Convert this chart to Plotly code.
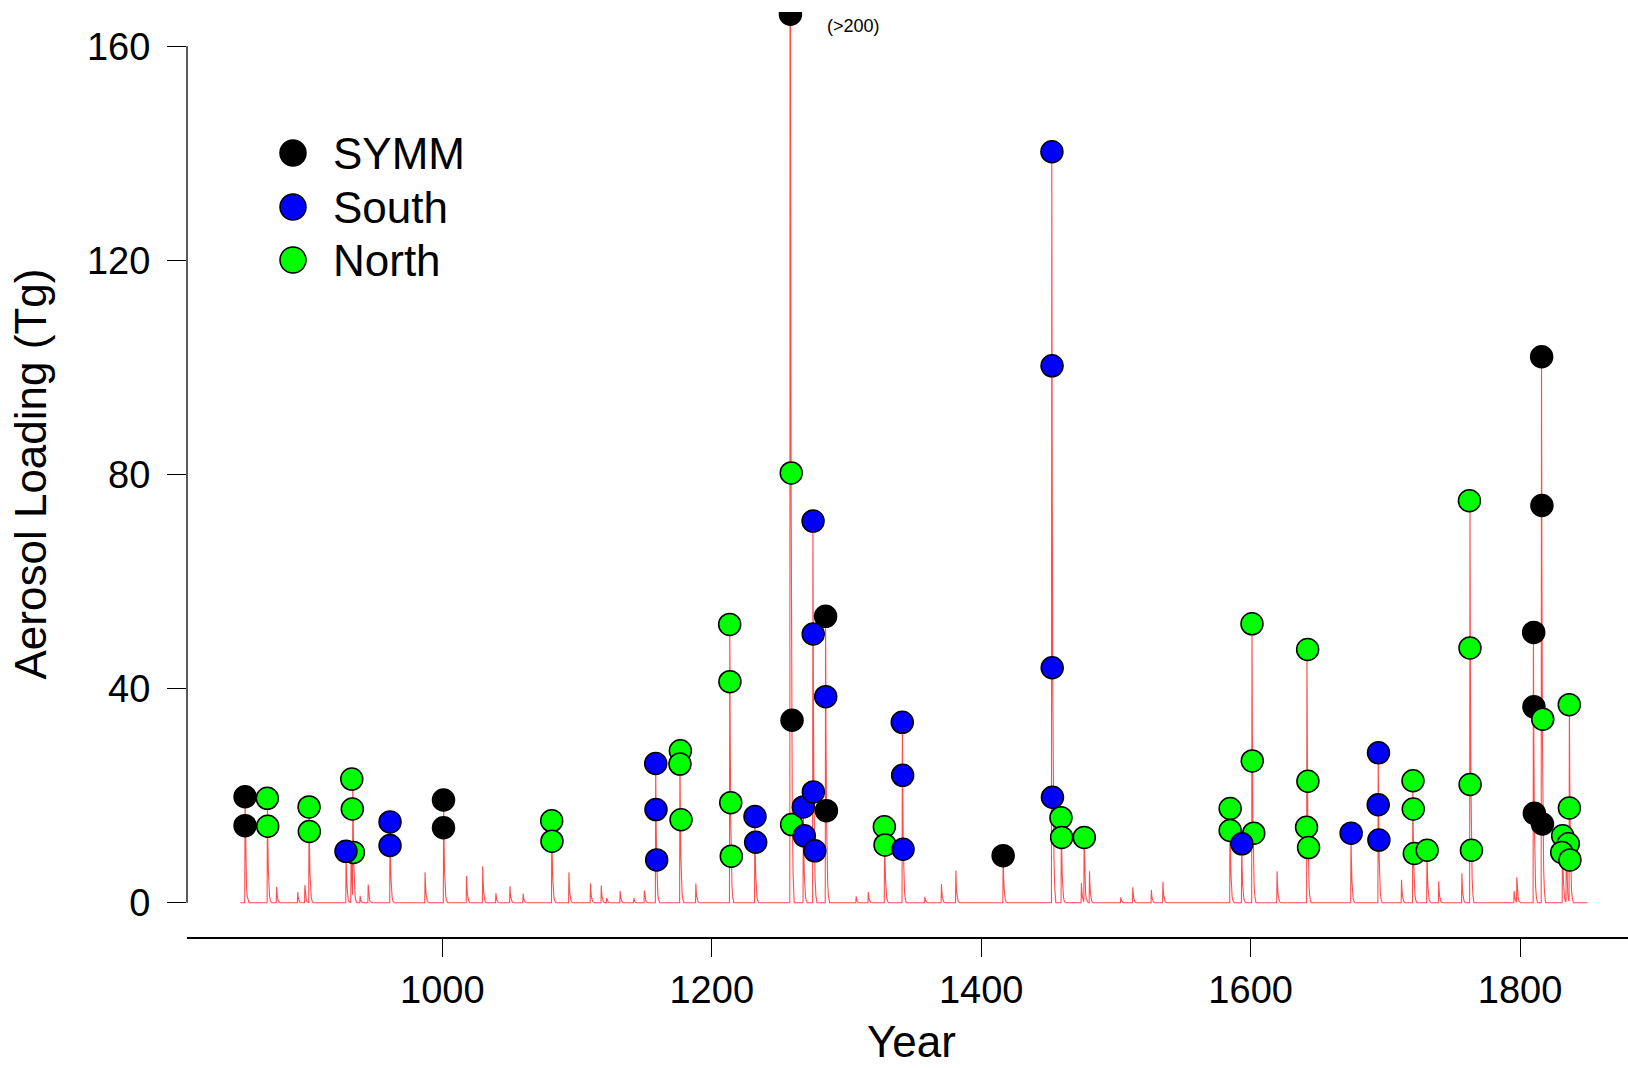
import numpy as np
import plotly.graph_objects as go

# ---------------- data ----------------
symm_years = [853.6, 853.6, 1000.9, 1000.9, 1258.4, 1259.6, 1284.5, 1285.1,
              1416.3, 1810.1, 1810.3, 1810.6, 1816.0, 1816.2, 1816.6]
symm_values = [19.8, 14.4, 19.2, 14.0, 166.0, 34.1, 53.5, 17.2,
               8.8, 50.5, 36.6, 16.7, 102.0, 74.2, 14.7]

south_years = [928.5, 961.2, 961.2, 1158.4, 1158.6, 1159.1, 1232.1, 1232.6,
               1268.0, 1268.7, 1275.2, 1275.3, 1275.4, 1276.5, 1284.6,
               1341.4, 1341.7, 1342.0, 1452.5, 1452.6, 1452.7, 1452.9,
               1593.5, 1674.6, 1694.9, 1694.7, 1695.2]
south_values = [9.6, 15.1, 10.7, 26.0, 17.4, 8.0, 16.1, 11.3,
                17.9, 12.5, 71.3, 50.2, 20.7, 9.7, 38.5,
                33.7, 23.8, 10.0, 140.3, 100.3, 43.9, 19.7,
                11.0, 13.0, 28.0, 18.3, 11.7]

north_years = [870.1, 870.4, 901.1, 901.3, 932.8, 933.2, 934.0, 1081.2, 1081.4,
               1176.7, 1176.4, 1177.2, 1213.3, 1213.5, 1214.1, 1214.5,
               1259.0, 1259.3, 1328.1, 1328.6, 1459.2, 1459.7, 1476.5,
               1584.8, 1584.8, 1601.0, 1601.2, 1602.3,
               1642.3, 1642.5, 1641.5, 1643.0, 1720.5, 1720.7, 1721.5, 1731.0,
               1762.4, 1762.8, 1762.9, 1763.9, 1816.8,
               1836.5, 1836.6, 1831.6, 1835.8, 1830.9, 1837.0]
north_values = [19.5, 14.3, 17.9, 13.3, 23.1, 17.5, 9.4, 15.3, 11.5,
                28.4, 25.9, 15.5, 52.0, 41.3, 18.7, 8.7,
                80.3, 14.6, 14.2, 10.8, 15.9, 12.2, 12.2,
                17.6, 13.5, 52.1, 26.5, 13.0,
                47.3, 22.7, 14.1, 10.3, 22.8, 17.5, 9.2, 9.8,
                75.1, 47.6, 22.1, 9.8, 34.3,
                37.0, 17.7, 12.5, 11.0, 9.4, 8.0]

# red aerosol-loading series: eruption years and peak loadings (Tg)
spike_years = [853.6, 870.2, 877.0, 892.7, 898.0, 901.1, 928.6, 932.3, 933.6,
               939.0, 945.0, 961.2, 987.2, 1001.0, 1018.0, 1030.0, 1039.8,
               1050.2, 1060.0, 1081.3, 1094.0, 1110.0, 1118.0, 1122.0, 1132.0,
               1142.2, 1150.0, 1158.4, 1176.4, 1188.2, 1213.4, 1232.0, 1258.2,
               1268.0, 1275.1, 1284.5, 1307.2, 1316.2, 1328.3, 1341.5, 1358.2,
               1370.5, 1381.2, 1416.3, 1452.4, 1459.5, 1474.4, 1476.4, 1480.4,
               1503.6, 1512.5, 1526.3, 1534.9, 1584.7, 1593.4, 1601.0, 1619.6,
               1641.8, 1674.5, 1694.7, 1712.0, 1720.4, 1730.9, 1739.6, 1756.8,
               1762.8, 1795.6, 1797.6, 1809.9, 1815.9, 1831.5, 1834.3, 1836.6]
spike_peaks = [19.8, 19.5, 3.0, 2.0, 3.3, 17.9, 9.7, 9.4, 23.1,
               1.3, 3.4, 15.1, 5.7, 19.2, 5.0, 6.8, 1.8,
               3.1, 1.7, 15.3, 5.7, 3.6, 3.2, 0.9, 2.2,
               0.9, 2.3, 26.0, 28.4, 3.6, 52.0, 16.1, 260.0,
               17.9, 71.3, 53.5, 1.2, 2.0, 14.2, 33.7, 1.1,
               3.5, 6.0, 8.8, 140.3, 15.9, 3.7, 12.2, 5.9,
               1.0, 2.9, 2.4, 3.9, 17.6, 11.0, 52.1, 5.9,
               47.3, 13.0, 28.0, 4.3, 22.8, 9.8, 4.0, 5.5,
               75.1, 2.2, 4.7, 50.5, 102.0, 12.5, 11.0, 37.0]
series_start, series_end = 850.0, 1850.0

y_ticks = [0, 40, 80, 120, 160]
x_ticks = [1000, 1200, 1400, 1600, 1800]
legend_names = ["SYMM", "South", "North"]
legend_colors = ["#000000", "#0000FF", "#00FF00"]

assert len(spike_years) == len(spike_peaks)
assert len(symm_years) == len(symm_values)
assert len(south_years) == len(south_values)
assert len(north_years) == len(north_values)

# ---------------- spike shape (style of the red trace) ----------------
RISE = 0.25
DECAY_T = [0.0, 0.3, 0.7, 1.1, 1.6, 2.2, 3.0]
DECAY_F = [1.0, 0.6, 0.3, 0.14, 0.06, 0.02, 0.0]

grid = sorted(set([series_start, series_end]
                  + [y - RISE for y in spike_years]
                  + [y + t for y in spike_years for t in DECAY_T]))
grid = np.array(grid)
line_vals = np.zeros(len(grid))
for y, p in zip(spike_years, spike_peaks):
    px = [y - RISE] + [y + t for t in DECAY_T]
    py = [0.0] + [p * f for f in DECAY_F]
    line_vals += np.interp(grid, px, py, left=0.0, right=0.0)

FONT = "Liberation Sans, Arial, Helvetica, sans-serif"

fig = go.Figure()
fig.add_trace(go.Scatter(x=grid, y=line_vals, mode="lines",
                         line=dict(color="rgba(255,0,0,0.7)", width=1.1),
                         showlegend=False, hoverinfo="skip"))

MS = 22
fig.add_trace(go.Scatter(x=symm_years, y=symm_values, mode="markers", name="SYMM",
                         marker=dict(size=MS, color="#000000",
                                     line=dict(color="#000000", width=1.5)),
                         showlegend=False))
fig.add_trace(go.Scatter(x=north_years, y=north_values, mode="markers", name="North",
                         marker=dict(size=MS, color="#00FF00",
                                     line=dict(color="#000000", width=1.5)),
                         showlegend=False))
fig.add_trace(go.Scatter(x=south_years, y=south_values, mode="markers", name="South",
                         marker=dict(size=MS, color="#0000FF",
                                     line=dict(color="#000000", width=1.5)),
                         showlegend=False))

W, H = 1628, 1068
L, R, T, B = 187, 0, 12, 131

shapes = []
# y axis line from 0 to 160 only (R style)
shapes.append(dict(type="line", xref="paper", yref="y", x0=0, x1=0,
                   y0=y_ticks[0], y1=y_ticks[-1],
                   line=dict(color="black", width=1.3)))
annotations = []
# custom legend
leg_x = 293 - L
leg_rows = [153, 207, 260]
for name, col, yc in zip(legend_names, legend_colors, leg_rows):
    off = -(yc - T)
    shapes.append(dict(type="circle", xref="paper", yref="paper",
                       xsizemode="pixel", ysizemode="pixel",
                       xanchor=0, yanchor=1,
                       x0=leg_x - 13, x1=leg_x + 13, y0=off - 13, y1=off + 13,
                       fillcolor=col, line=dict(color="black", width=1.5)))
    annotations.append(dict(text=name, xref="paper", yref="paper", x=0, y=1,
                            xshift=331 - L, yshift=off, xanchor="left",
                            yanchor="middle", showarrow=False,
                            font=dict(family=FONT, size=44, color="black")))

annotations.append(dict(text="(>200)", xref="x", yref="paper", x=symm_years[4], y=1,
                        xshift=63, yshift=-14, xanchor="center", yanchor="middle",
                        showarrow=False, font=dict(family=FONT, size=18, color="black")))
annotations.append(dict(text="Aerosol Loading (Tg)", xref="paper", yref="paper",
                        x=0, y=0.5, xshift=30 - L, textangle=-90,
                        xanchor="center", yanchor="middle", showarrow=False,
                        font=dict(family=FONT, size=44, color="black")))
annotations.append(dict(text="Year", xref="paper", yref="paper",
                        x=0.5, y=0, xshift=4, yshift=-104, xanchor="center", yanchor="middle",
                        showarrow=False, font=dict(family=FONT, size=44, color="black")))

fig.update_layout(
    width=W, height=H,
    margin=dict(l=L, r=R, t=T, b=B, pad=0),
    paper_bgcolor="white", plot_bgcolor="white",
    font=dict(family=FONT, color="black"),
    shapes=shapes, annotations=annotations,
    showlegend=False,
)
fig.update_xaxes(range=[810.5, 1880.1], tickvals=x_ticks, ticktext=[str(v) for v in x_ticks],
                 ticks="outside", ticklen=18, tickwidth=1, tickcolor="black",
                 showline=True, linecolor="black", linewidth=1.6,
                 showgrid=False, zeroline=False,
                 tickfont=dict(family=FONT, size=38, color="black"),
                 ticklabelstandoff=1)
fig.update_yaxes(range=[-6.4, 166.4], tickvals=y_ticks, ticktext=[str(v) for v in y_ticks],
                 ticks="outside", ticklen=19, tickwidth=1.3, tickcolor="black",
                 showline=False, showgrid=False, zeroline=False,
                 tickfont=dict(family=FONT, size=38, color="black"),
                 ticklabelstandoff=9)

fig.write_html("out.html")
